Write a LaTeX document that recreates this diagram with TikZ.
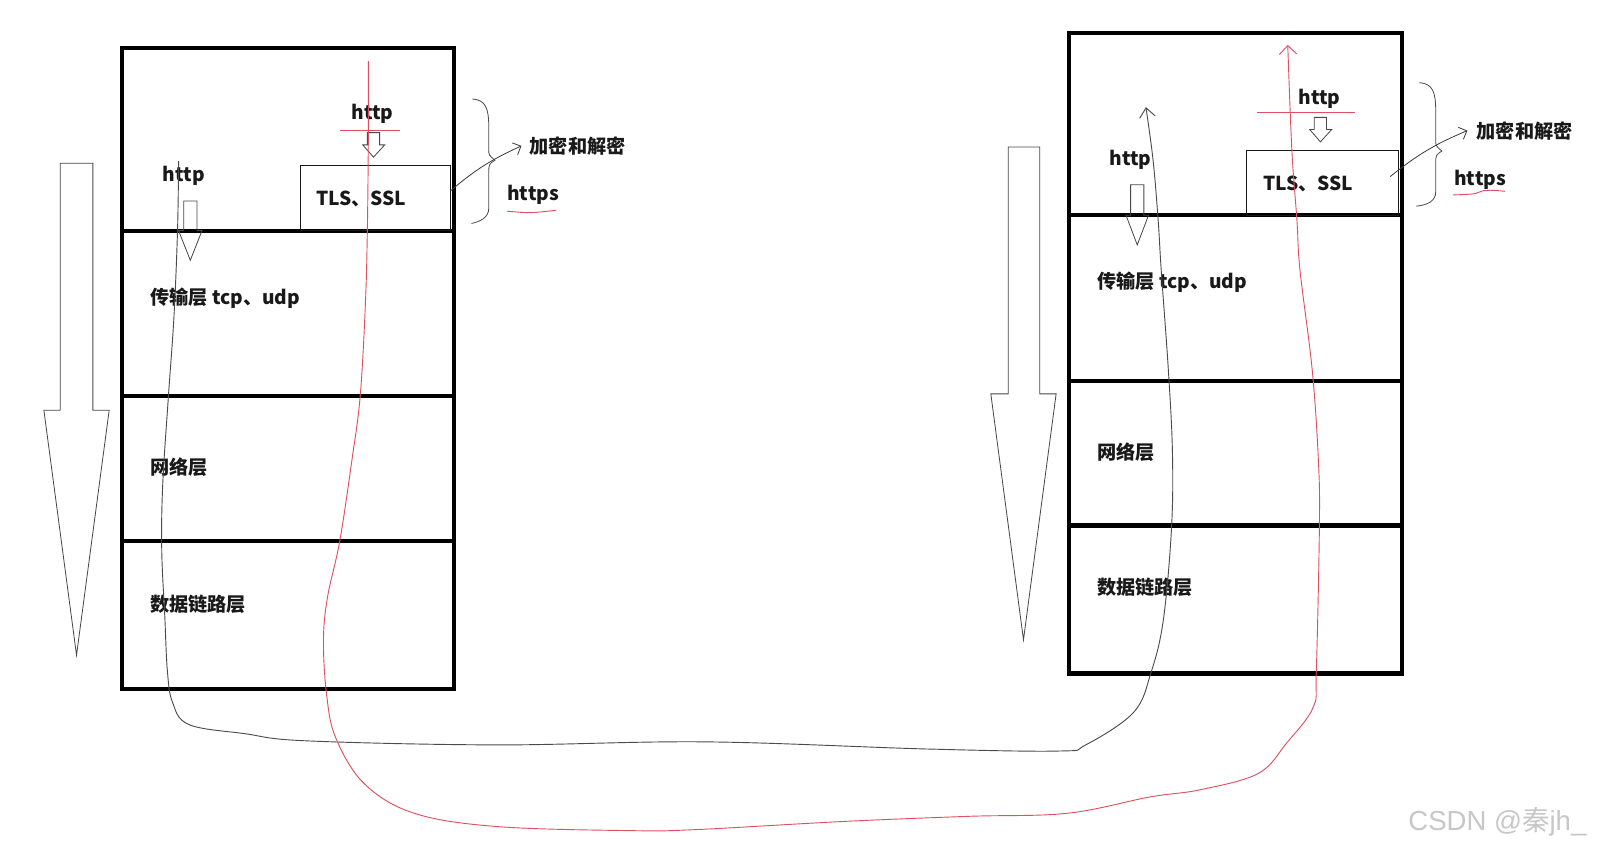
\documentclass[tikz,border=0pt]{standalone}
\usepackage{fontspec}
\setmainfont{Noto Sans CJK SC}
\newfontfamily\wmfont{Liberation Sans}
\newfontfamily\wmcjk{Noto Sans CJK SC}
\usetikzlibrary{arrows.meta,fit}
\definecolor{ink}{RGB}{25,25,25}
\definecolor{pen}{RGB}{222,80,96}
\definecolor{pencil}{RGB}{75,75,75}
\begin{document}
\begin{tikzpicture}[x=1pt, y=-1pt,
    layer/.style={draw=black, line width=4pt, inner sep=0pt},
    box/.style={draw=ink, line width=0.9pt, inner sep=0pt},
    lbl/.style={font=\fontsize{18.8}{20}\selectfont\bfseries, text=ink, inner sep=1pt},
    hollow/.style={draw=ink!80, line width=0.8pt},
    wire/.style={draw=pencil, line width=0.9pt},
    redwire/.style={draw=pen, line width=0.9pt},
    hand/.style={-{Straight Barb[angle=90:9pt]}, draw=ink!85, line width=0.8pt}]
    \fill[white] (0,0) rectangle (1568,832);
    \useasboundingbox (0,0) rectangle (1568,832);

    % Linker Stapel (Sender)
    \node[layer, fit={(120,47) (445,226)}] (appL) {};
    \node[layer, fit={(120,226) (445,388)}] (tcpL) {};
    \node[layer, fit={(120,388) (445,530)}] (netL) {};
    \node[layer, fit={(120,530) (445,675)}] (linkL) {};
    \node[box, fit={(294,162) (441,226)}] (tlsL) {};
    \node[lbl] (httpTopL) at (365,112) {http};
    \node[lbl] (httpL) at (180,172) {http};
    \node[lbl] (tlsTxtL) at (354,195) {TLS、SSL};
    \node[lbl, anchor=west] (tcpTxtL) at (146,292) {传输层 tcp、udp};
    \node[lbl, anchor=west] (netTxtL) at (146,458) {网络层};
    \node[lbl, anchor=west] (linkTxtL) at (146,592) {数据链路层};
    \node[lbl, anchor=west] (encL) at (518,143) {加密和解密};
    \node[lbl, anchor=west] (httpsL) at (496,191) {https};

    % Rechter Stapel (Empfaenger)
    \node[layer, fit={(1048,32) (1374,211)}] (appR) {};
    \node[layer, fit={(1048,211) (1374,373)}] (tcpR) {};
    \node[layer, fit={(1048,373) (1374,515)}] (netR) {};
    \node[layer, fit={(1048,515) (1374,660)}] (linkR) {};
    \node[box, fit={(1222,147) (1370,211)}] (tlsR) {};
    \node[lbl] (httpTopR) at (1293,97) {http};
    \node[lbl] (httpR) at (1108,157) {http};
    \node[lbl] (tlsTxtR) at (1282,180) {TLS、SSL};
    \node[lbl, anchor=west] (tcpTxtR) at (1074,277) {传输层 tcp、udp};
    \node[lbl, anchor=west] (netTxtR) at (1074,443) {网络层};
    \node[lbl, anchor=west] (linkTxtR) at (1074,576) {数据链路层};
    \node[lbl, anchor=west] (encR) at (1446,128) {加密和解密};
    \node[lbl, anchor=west] (httpsR) at (1424,176) {https};

    % Hohle Pfeile nach unten
    \draw[hollow] (59,160) -- (91,160) -- (91,402) -- (107,402) -- (75,642) -- (43,402) -- (59,402) -- cycle;
    \draw[hollow] (988,144) -- (1019,144) -- (1019,386) -- (1035,386) -- (1003,627) -- (971,386) -- (988,386) -- cycle;
    \draw[hollow] (180,197) -- (193,197) -- (193,226) -- (198,226) -- (186.5,255) -- (175,226) -- (180,226) -- cycle;
    \draw[hollow] (1108,181) -- (1121,181) -- (1121,211) -- (1125.5,211) -- (1114.5,240) -- (1103.5,211) -- (1108,211) -- cycle;
    \draw[hollow] (360,130) -- (372,130) -- (372,142) -- (377,142) -- (366,154) -- (355.5,142) -- (360,142) -- cycle;
    \draw[hollow] (1288,115) -- (1300,115) -- (1300,127) -- (1305,127) -- (1294,139) -- (1283.5,127) -- (1288,127) -- cycle;

    % Klammern und Verschluesselung
    \draw[wire, line width=0.8pt] (463,97) .. controls (476,98) and (479,106) .. (479,125) -- (479,146) .. controls (479,152) .. (485,157) .. controls (479,161) .. (479,170) -- (479,204) .. controls (479,213) and (471,217) .. (462,219);
    \draw[wire, line width=0.8pt] (1391,81) .. controls (1404,82) and (1407,90) .. (1407,109) -- (1407,137) .. controls (1407,143) .. (1413,148) .. controls (1407,152) .. (1407,161) -- (1407,188) .. controls (1407,197) and (1399,201) .. (1388,202);
    \draw[hand] ([yshift=7pt]tlsL.east) to[bend left=8] ([xshift=-7pt]encL.west);
    \draw[hand] ([xshift=-8pt, yshift=6pt]tlsR.east) to[bend left=8] ([xshift=-8pt]encR.west);

    % Rote Markierungen
    \draw[redwire] (333,128) -- (392,128);
    \draw[redwire] (1232,110) -- (1328,110);
    \draw[redwire] (497,207) .. controls (520,209) .. (545,206);
    \draw[redwire] plot[smooth] coordinates {(1424,191) (1444,190) (1453,187) (1463,186.5) (1475,187.5)};

    % Weg ohne Verschluesselung
    \coordinate (blkS) at (175,158);
    \coordinate (blkE) at (1123,105);
    \draw[wire, -{Straight Barb[angle=80:12pt]}] plot[smooth, tension=0.6] coordinates {(blkS) (174,225) (170.5,310) (165,389) (159.5,474) (158.5,539) (161.5,604) (164,657) (169,688) (185,710) (240,719) (300,726) (487,730) (690,727) (908,734) (1038,736) (1064,730) (1111,698) (1128,659) (1140,608) (1148,519) (1149,444) (1145,363) (1138,265) (1135,216) (1130,157) (blkE)};

    % Weg mit TLS
    \coordinate (redS) at (361,60);
    \coordinate (redE) at (1262,44);
    \draw[redwire, -{Straight Barb[angle=90:12pt]}] plot[smooth, tension=0.6] coordinates {(redS) (361,130) (360,226) (358,300) (353,388) (345,450) (333,530) (321,585) (317,627) (320,680) (329,723) (357,768) (406,797) (487,810) (617,814) (682,813) (827,805) (949,800) (1046,797) (1127,781) (1176,774) (1233,758) (1261,728) (1287,693) (1290,657) (1293,516) (1292,451) (1286,363) (1274,265) (1271,216) (1266,147) (redE)};

    % Wasserzeichen
    \node[font=\wmfont\fontsize{27}{30}\selectfont, text=black!22, anchor=west, inner sep=0pt] (wm) at (1380,805) {CSDN @{\wmcjk 秦}jh\_};
\end{tikzpicture}
\end{document}
